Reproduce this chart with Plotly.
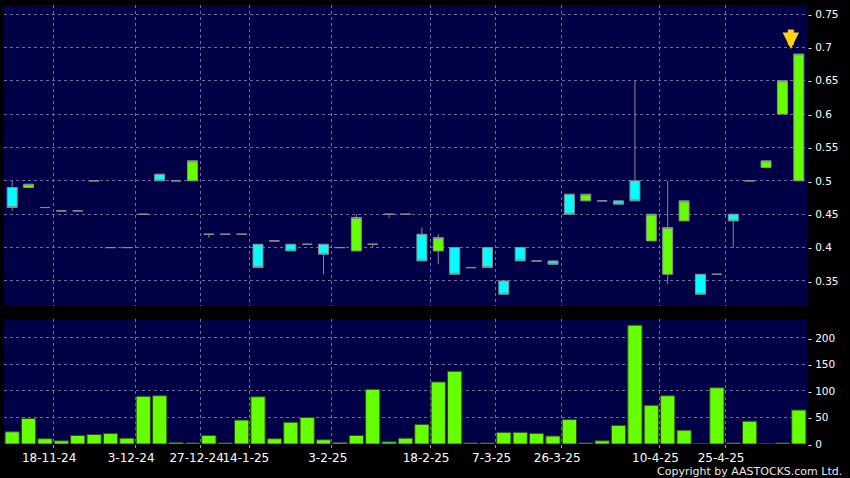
import plotly.graph_objects as go

# ---- data ----
opens = [0.49, 0.49, 0.46, 0.455, 0.455, 0.50, 0.40, 0.40, 0.45, 0.51,
         0.50, 0.50, 0.42, 0.42, 0.42, 0.405, 0.41, 0.405, 0.405, 0.405,
         0.40, 0.395, 0.405, 0.45, 0.45, 0.42, 0.395, 0.40, 0.37, 0.40,
         0.35, 0.40, 0.38, 0.38, 0.48, 0.47, 0.47, 0.47, 0.50, 0.41,
         0.36, 0.44, 0.36, 0.36, 0.45, 0.50, 0.52, 0.60, 0.50]
closes = [0.46, 0.495, 0.46, 0.455, 0.455, 0.50, 0.40, 0.40, 0.45, 0.50,
          0.50, 0.53, 0.42, 0.42, 0.42, 0.37, 0.41, 0.395, 0.405, 0.39,
          0.40, 0.445, 0.405, 0.45, 0.45, 0.38, 0.415, 0.36, 0.37, 0.37,
          0.33, 0.38, 0.38, 0.375, 0.45, 0.48, 0.47, 0.465, 0.47, 0.45,
          0.43, 0.47, 0.33, 0.36, 0.44, 0.50, 0.53, 0.65, 0.69]
highs = [0.50, 0.495, 0.46, 0.455, 0.455, 0.50, 0.40, 0.40, 0.45, 0.51,
         0.50, 0.53, 0.42, 0.42, 0.42, 0.405, 0.41, 0.405, 0.405, 0.405,
         0.40, 0.45, 0.405, 0.45, 0.45, 0.43, 0.42, 0.40, 0.37, 0.40,
         0.35, 0.40, 0.38, 0.38, 0.48, 0.48, 0.47, 0.47, 0.65, 0.45,
         0.50, 0.47, 0.36, 0.36, 0.45, 0.50, 0.53, 0.65, 0.69]
lows = [0.455, 0.49, 0.46, 0.455, 0.455, 0.50, 0.40, 0.40, 0.45, 0.50,
        0.50, 0.50, 0.415, 0.42, 0.42, 0.37, 0.41, 0.395, 0.405, 0.36,
        0.40, 0.395, 0.40, 0.445, 0.45, 0.38, 0.375, 0.36, 0.37, 0.37,
        0.33, 0.38, 0.38, 0.375, 0.45, 0.47, 0.47, 0.465, 0.47, 0.41,
        0.345, 0.44, 0.33, 0.36, 0.40, 0.50, 0.52, 0.60, 0.50]
volumes = [23, 48, 10, 6, 16, 18, 20, 11, 90, 91,
           3, 2, 16, 2, 45, 89, 10, 41, 50, 8,
           3, 16, 103, 4, 11, 37, 117, 137, 2, 2,
           22, 22, 20, 15, 46, 2, 6, 35, 224, 73,
           91, 26, 1, 106, 2, 43, 1, 2, 64]
tick_labels = ["18-11-24", "3-12-24", "27-12-24", "14-1-25", "3-2-25",
               "18-2-25", "7-3-25", "26-3-25", "10-4-25", "25-4-25"]
tick_slots = [3, 8, 12, 15, 20, 26, 30, 34, 40, 44]

x = list(range(len(opens)))
tickvals = [s - 0.5 for s in tick_slots]

BG = "#000046"
GRID = "#6a6aa0"
GREEN = "#66FF00"
CYAN = "#00FFFF"
EDGE = "#8c8c8c"
FONT = "DejaVu Sans"

fig = go.Figure()
fig.add_trace(go.Candlestick(
    x=x, open=opens, high=highs, low=lows, close=closes,
    xaxis="x2", yaxis="y",
    increasing=dict(fillcolor=GREEN, line=dict(color=EDGE, width=1)),
    decreasing=dict(fillcolor=CYAN, line=dict(color=EDGE, width=1)),
    whiskerwidth=0, showlegend=False, hoverinfo="skip",
))
fig.add_trace(go.Bar(
    x=x, y=volumes, xaxis="x", yaxis="y2",
    marker=dict(color=GREEN, line=dict(color="#2f4a1a", width=1)),
    showlegend=False, hoverinfo="skip",
))

common_x = dict(
    range=[-0.5, len(opens) - 0.5], tickmode="array", tickvals=tickvals,
    showgrid=True, gridcolor=GRID, griddash="3px,3px", gridwidth=1,
    zeroline=False, showline=False, fixedrange=True, automargin=False,
    rangeslider=dict(visible=False),
)

fig.update_layout(
    width=850, height=478,
    paper_bgcolor="#000000", plot_bgcolor=BG,
    margin=dict(l=4, r=43, t=5, b=34, autoexpand=False),
    bargap=0.13, boxgap=0.13,
    font=dict(family=FONT, color="#ffffff", size=11),
    xaxis=dict(**common_x, anchor="y2", domain=[0, 1], ticktext=tick_labels,
               ticks="outside", ticklen=3, tickcolor="#9a9a9a", tickangle=0,
               tickfont=dict(size=12, color="#ffffff", family=FONT),
               ticklabelshift=-4),
    xaxis2=dict(**common_x, anchor="y", domain=[0, 1], matches="x",
                showticklabels=False, ticks=""),
    yaxis=dict(domain=[0.3144, 1], side="right", range=[0.3125, 0.7635],
               tick0=0.35, dtick=0.05, tickprefix="- ", ticks="",
               showgrid=True, gridcolor=GRID, griddash="3px,3px",
               zeroline=False, fixedrange=True, automargin=False,
               tickfont=dict(size=10.5, color="#ffffff", family=FONT)),
    yaxis2=dict(domain=[0, 0.284], side="right", range=[0, 235],
                tick0=0, dtick=50, tickprefix="- ", ticks="",
                showgrid=True, gridcolor=GRID, griddash="3px,3px",
                zeroline=False, fixedrange=True, automargin=False,
                tickfont=dict(size=10.5, color="#ffffff", family=FONT)),
)

# yellow marker arrow above the latest candle
fig.add_annotation(
    x=x[-1], y=highs[-1], xref="x2", yref="y",
    showarrow=True, ax=0, ay=-26, arrowhead=2, arrowsize=0.55,
    arrowwidth=6, arrowcolor="#FFD21A", standoff=5, xshift=-8, text="",
)

fig.add_annotation(
    text="Copyright by AASTOCKS.com Ltd.", xref="paper", yref="paper",
    x=1.0465, y=-0.063, xanchor="right", yanchor="middle", showarrow=False,
    font=dict(size=11, color="#e8e8e8", family=FONT),
)

fig.write_html(
    "out.html",
    config={"displayModeBar": False},
    post_script="document.body.style.margin='0';document.body.style.background='#000';",
)
